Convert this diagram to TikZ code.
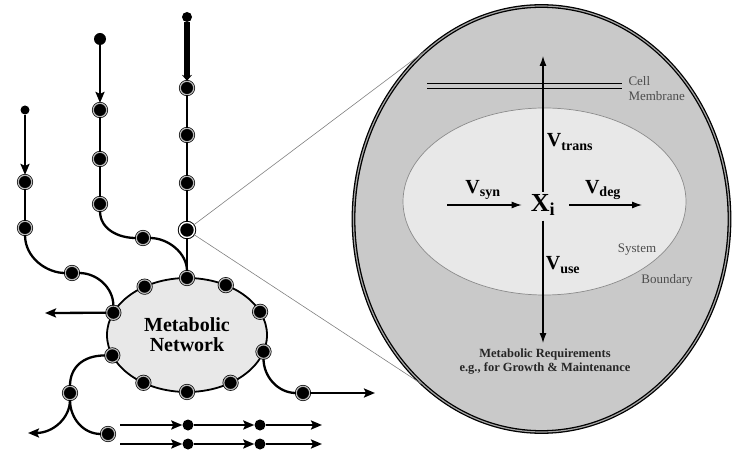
\documentclass[tikz,border=0pt]{standalone}
\usepackage{fontspec}
\setmainfont{Liberation Serif}
\usetikzlibrary{
    arrows.meta,
    calc,
    shapes.geometric
}

\newcommand{\rate}[1]{{\fontsize{20}{20}\selectfont\bfseries V\textsubscript{#1}}}

\begin{document}
\begin{tikzpicture}[x=1pt, y=-1pt,
    met/.style={circle, fill=black, draw=black, line width=0.7pt, double=gray!55,
        double distance=1.2pt, minimum size=13.5pt, inner sep=0pt},
    src/.style={circle, fill=black, inner sep=0pt, minimum size=#1},
    src/.default=11pt,
    flux/.style={line width=2.3pt},
    tip/.style={-{Stealth[length=11pt, width=9pt, inset=2pt]}},
    thinarrow/.style={line width=1.1pt, -{Latex[length=10pt, width=7pt]}},
    note/.style={font=\fontsize{13}{15}\selectfont, text=black!70, align=left}
]

\useasboundingbox (0,0) rectangle (736,454);

% Cell, zoomed in
\node[ellipse, draw=black, line width=1.3pt, double=gray!70, double distance=1.2pt,
    fill=gray!42, minimum width=376pt, minimum height=426pt, inner sep=0pt] (cell) at (541.5,219) {};

% System boundary
\node[ellipse, draw=gray!90, line width=0.7pt, fill=gray!18,
    minimum width=283pt, minimum height=187pt, inner sep=0pt] (sys) at (544.5,201.5) {};

% Cell membrane
\draw[line width=1pt] (427,84) -- (622,84);
\draw[line width=1pt] (427,89) -- (622,89);
\node[note, anchor=west] (memb) at (625,89) {Cell\\Membrane};

% Metabolite and its fluxes
\node[inner xsep=9pt, inner ysep=2pt, font=\fontsize{26}{26}\selectfont\bfseries] (Xi) at (543,205) {X\textsubscript{i}};
\coordinate (out) at (543,56);
\coordinate (synin) at (447,205);
\coordinate (degout) at (642,205);
\coordinate (req) at (543,343);

\draw[thinarrow, {Latex[length=10pt, width=7pt]}-] (out) -- (Xi);
\draw[thinarrow] (synin) -- (Xi);
\draw[thinarrow, shorten <=5pt] (Xi) -- (degout);
\draw[thinarrow, shorten <=3pt] (Xi) -- (req);

\node (vtrans) at (570,142) {\rate{trans}};
\node (vsyn) at (483,190) {\rate{syn}};
\node (vdeg) at (603,190) {\rate{deg}};
\node (vuse) at (563,265) {\rate{use}};

\node[note] (syslab) at (637,250) {System};
\node[note] (bndlab) at (667,280) {Boundary};

\node[align=center, font=\fontsize{12.5}{14}\selectfont\bfseries, text=black!85] (reqlab) at (545,362)
    {Metabolic Requirements\\e.g., for Growth \& Maintenance};

% Metabolic network
\node[ellipse, draw, line width=1.8pt, fill=gray!18, minimum width=160pt, minimum height=114pt,
    inner sep=0pt, align=center, font=\fontsize{20}{20}\selectfont\bfseries] (net) at (187,335)
    {Metabolic\\Network};

\foreach \n/\a in {1/-90, 2/-122, 3/-61, 4/-24, 5/-157, 6/159, 7/17, 8/123, 9/90, 10/57}
    \node[met] (r\n) at ($(net.center)+(\a:80 and 57)$) {};

% Pathways feeding in
\node[src=9pt] (src1) at (25,110) {};
\node[met] (c1a) at (25,182) {};
\node[met] (c1b) at (25,228) {};
\node[met] (c1c) at (72,273) {};

\node[src=12pt] (src2) at (100,39) {};
\node[met] (c2a) at (100,110) {};
\node[met] (c2b) at (100,159) {};
\node[met] (c2c) at (100,204) {};
\node[met] (c2d) at (143,238) {};

\node[src=10pt] (src3) at (187,17) {};
\node[met] (c3a) at (187,88) {};
\node[met] (c3b) at (187,135) {};
\node[met] (c3c) at (187,183) {};
\node[circle, fill=black, draw=black, line width=1pt, double=white, double distance=1.4pt,
    minimum size=15pt, inner sep=0pt] (xi) at (187,230) {};

\draw[flux, tip] (src1) -- (c1a);
\draw[flux] (c1a) -- (c1b);
\draw[flux] (c1b) .. controls +(0,30) and +(-25,0) .. (c1c);
\draw[flux] (c1c) .. controls +(25,0) and +(0,-25) .. (r5);

\draw[flux, tip] (src2) -- (c2a);
\draw[flux] (c2a) -- (c2b) -- (c2c);
\draw[flux] (c2c) .. controls +(0,25) and +(-25,0) .. (c2d);
\draw[flux] (c2d) .. controls +(25,0) and +(0,-25) .. (r1);

\draw[line width=6pt, -{Stealth[length=6pt, width=10pt]}] (src3) -- (c3a);
\draw[flux] (c3a) -- (c3b) -- (c3c) -- (xi) -- (r1);

% Zoom lines
\draw[gray, line width=0.6pt] (xi) -- (cell.125);
\draw[gray, line width=0.6pt] (xi) -- (cell.-126);

% Pathways leaving
\coordinate (out1) at (45,313);
\coordinate (out2) at (28,433);
\coordinate (out3) at (375,393);
\node[met] (b1) at (70,393) {};
\node[met] (b2) at (108,434) {};
\node[met] (b3) at (303,393) {};

\draw[flux, tip] (r5) -- (out1);
\draw[flux] (r6) .. controls +(-30,0) and +(0,-25) .. (b1);
\draw[flux, tip] (b1) .. controls +(0,25) and +(25,0) .. (out2);
\draw[flux] (b1) .. controls +(0,25) and +(-25,0) .. (b2);
\draw[flux] (r7) .. controls +(0,25) and +(-25,0) .. (b3);
\draw[flux, tip] (b3) -- (out3);

% Downstream rows
\foreach \y/\r in {425/u, 444/l} {
    \coordinate (\r0) at (120,\y);
    \node[src=11pt] (\r1) at (188,\y) {};
    \node[src=11pt] (\r2) at (260,\y) {};
    \coordinate (\r3) at (322,\y);
    \draw[flux, tip] (\r0) -- (\r1);
    \draw[flux, tip] (\r1) -- (\r2);
    \draw[flux, tip] (\r2) -- (\r3);
}

\end{tikzpicture}
\end{document}
